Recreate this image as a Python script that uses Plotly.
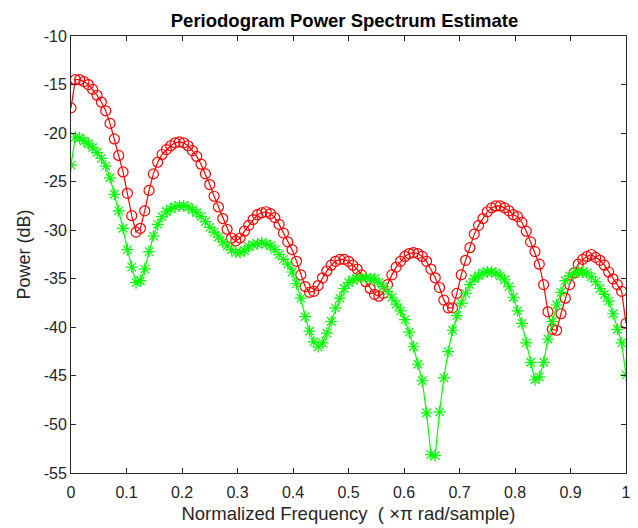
import numpy as np
import plotly.graph_objects as go

n_bins = 129
freq = [k / 128 for k in range(n_bins)]

red_db = [
    -17.4, -14.5, -14.5, -14.7, -15.0, -15.5, -16.1, -16.8, -17.7, -19.0,
    -20.6, -22.3, -24.0, -26.2, -28.5, -30.2, -29.8, -28.0, -25.9, -24.2,
    -23.0, -22.2, -21.7, -21.3, -21.0, -20.9, -21.0, -21.3, -21.8, -22.4,
    -23.2, -24.2, -25.3, -26.5, -27.6, -28.8, -29.9, -30.8, -31.1, -30.8,
    -30.1, -29.5, -28.9, -28.4, -28.2, -28.1, -28.3, -28.7, -29.4, -30.3,
    -31.2, -32.0, -33.2, -34.6, -35.8, -36.4, -36.3, -35.7, -34.9, -34.2,
    -33.6, -33.2, -33.0, -33.0, -33.2, -33.6, -34.0, -34.6, -35.3, -36.0,
    -36.6, -36.8, -36.5, -35.6, -34.6, -33.8, -33.2, -32.7, -32.4, -32.3,
    -32.4, -32.7, -33.2, -34.0, -34.9, -35.9, -37.2, -38.0, -38.0, -36.5,
    -34.6, -33.1, -31.8, -30.4, -29.5, -28.8, -28.1, -27.7, -27.5, -27.5,
    -27.7, -28.0, -28.4, -28.6, -29.2, -30.1, -31.2, -32.2, -33.5, -35.6,
    -38.4, -40.2, -40.3, -38.6, -37.0, -35.6, -34.4, -33.5, -33.0, -32.7,
    -32.5, -32.8, -33.1, -33.6, -34.3, -35.0, -35.6, -36.3, -39.6,
]

green_db = [
    -23.3, -20.4, -20.5, -20.8, -21.1, -21.5, -22.0, -22.6, -23.4, -24.6,
    -26.3, -28.0, -29.8, -32.0, -33.8, -35.4, -35.2, -34.0, -32.2, -30.6,
    -29.4, -28.6, -28.1, -27.8, -27.6, -27.5, -27.5, -27.6, -27.9, -28.2,
    -28.6, -29.1, -29.7, -30.2, -30.7, -31.2, -31.6, -32.0, -32.3, -32.3,
    -32.1, -31.7, -31.5, -31.4, -31.3, -31.4, -31.6, -32.0, -32.5, -33.0,
    -33.5, -34.3, -35.5, -37.0, -38.9, -40.4, -41.5, -42.0, -41.6, -40.6,
    -39.4, -38.0, -37.0, -36.0, -35.4, -35.1, -35.0, -34.9, -34.9, -35.0,
    -35.0, -35.4, -35.8, -36.3, -36.9, -37.6, -38.3, -39.2, -40.5, -42.0,
    -43.8, -45.5, -48.8, -53.1, -53.2, -48.7, -45.2, -42.5, -40.3, -38.8,
    -37.5, -36.5, -35.6, -35.0, -34.7, -34.4, -34.3, -34.3, -34.4, -34.7,
    -35.1, -35.8, -36.9, -38.3, -39.6, -41.6, -43.6, -45.4, -45.1, -43.6,
    -41.2, -39.4, -37.7, -36.4, -35.2, -34.7, -34.4, -34.3, -34.3, -34.4,
    -34.8, -35.3, -36.0, -36.6, -37.3, -38.6, -40.2, -41.6, -44.9,
]

x_ticks = [0, 0.1, 0.2, 0.3, 0.4, 0.5, 0.6, 0.7, 0.8, 0.9, 1]
x_tick_text = ["0", "0.1", "0.2", "0.3", "0.4", "0.5", "0.6", "0.7", "0.8", "0.9", "1"]
y_ticks = [-55, -50, -45, -40, -35, -30, -25, -20, -15, -10]
y_tick_text = ["-55", "-50", "-45", "-40", "-35", "-30", "-25", "-20", "-15", "-10"]

axis_color = "#262626"
font_family = "Liberation Sans, Arial, sans-serif"

fig = go.Figure()
fig.add_trace(go.Scatter(
    x=freq, y=red_db, mode="lines+markers", name="red",
    line=dict(color="#ff0000", width=1.2),
    marker=dict(symbol="circle-open", size=10, color="#ff0000", line=dict(width=1.2, color="#ff0000")),
))
fig.add_trace(go.Scatter(
    x=freq, y=green_db, mode="lines+markers", name="green",
    line=dict(color="#00ff00", width=1.2),
    marker=dict(symbol="asterisk-open", size=10, color="#00ff00", line=dict(width=1.2, color="#00ff00")),
))

axis_common = dict(
    showline=True, linecolor=axis_color, linewidth=1, mirror="ticks",
    ticks="inside", ticklen=5, tickcolor=axis_color, showgrid=False, zeroline=False,
    automargin=False,
    tickfont=dict(family=font_family, size=16, color=axis_color),
)

fig.update_layout(
    width=638, height=528,
    margin=dict(l=71, r=12, t=36, b=55, autoexpand=False),
    paper_bgcolor="white", plot_bgcolor="white",
    showlegend=False,
    title=dict(text="<b>Periodogram Power Spectrum Estimate</b>", x=0.54, xanchor="center",
               y=0.962, yanchor="middle",
               font=dict(family=font_family, size=18.5, color="#000000")),
    xaxis=dict(range=[0, 1], tickvals=x_ticks, ticktext=x_tick_text, ticklabelstandoff=5,
               title=dict(text="Normalized Frequency  ( ×π rad/sample)", standoff=6,
                          font=dict(family=font_family, size=18.5, color=axis_color)),
               **axis_common),
    yaxis=dict(range=[-55, -10], tickvals=y_ticks, ticktext=y_tick_text,
               title=dict(text="Power (dB)", standoff=8,
                          font=dict(family=font_family, size=18, color=axis_color)),
               **axis_common),
)

fig.write_html("out.html")
